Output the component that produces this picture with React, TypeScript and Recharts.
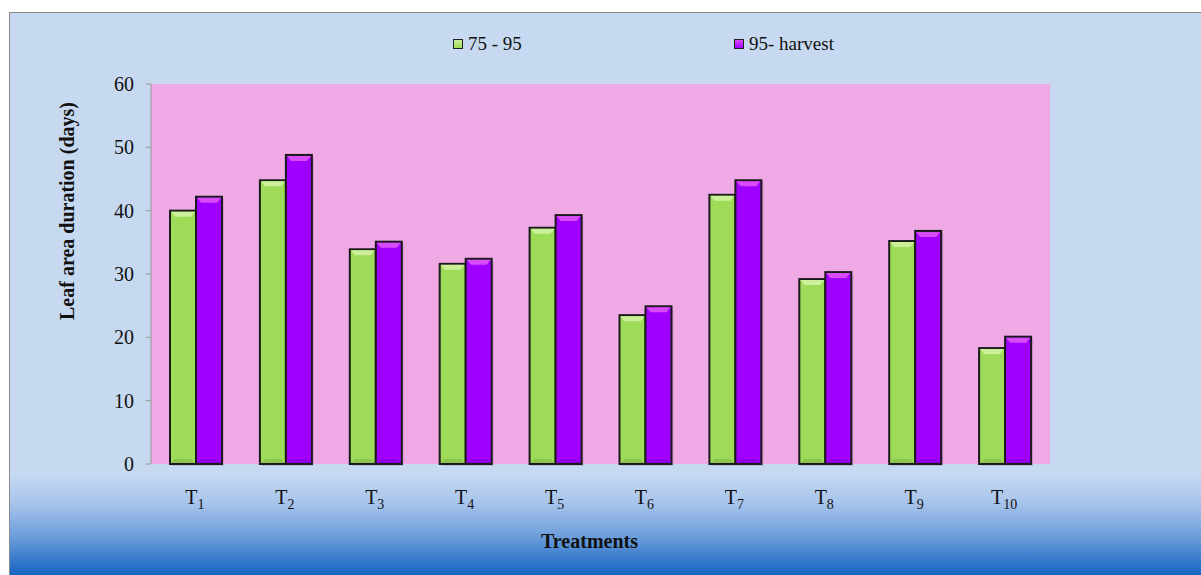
import React from 'react';
import { BarChart, Bar, XAxis, YAxis, CartesianGrid, Label } from 'recharts';

const categories = ['1', '2', '3', '4', '5', '6', '7', '8', '9', '10'];
const series7595 = [40.0, 44.8, 33.9, 31.6, 37.3, 23.5, 42.5, 29.2, 35.2, 18.3];
const seriesHarvest = [42.2, 48.8, 35.1, 32.4, 39.3, 24.9, 44.8, 30.3, 36.8, 20.1];
const yTicks = [0, 10, 20, 30, 40, 50, 60];
const seriesNames = ['75 - 95', '95- harvest'];

const data = categories.map((c, i) => ({ t: c, a: series7595[i], b: seriesHarvest[i] }));

const FONT = '"Liberation Serif", "Times New Roman", serif';
const GREEN = '#9EDB58';
const GREEN_LIGHT = '#CCF09A';
const PURPLE = '#A000FF';
const PURPLE_LIGHT = '#D84CF8';

const BevelBar = (props: any) => {
  const { x, y, width, height, fill, light } = props;
  if (!height || height <= 0) return null;
  return (
    <g>
      <rect x={x + 2} y={y + 2} width={width} height={height} fill="rgba(120,60,120,0.18)" />
      <rect x={x} y={y} width={width} height={height} fill={fill} stroke="#1a1a1a" strokeWidth={2} />
      <path
        d={`M${x + 1},${y + 1} h${width - 2} l-4,5 h${-(width - 10)} z`}
        fill={light}
      />
      <path
        d={`M${x + 1},${y + height - 1} h${width - 2} l-4,-4 h${-(width - 10)} z`}
        fill="rgba(0,0,0,0.10)"
      />
    </g>
  );
};

const XTick = (props: any) => {
  const { x, y, payload } = props;
  return (
    <text x={x - 1} y={y + 32} textAnchor="middle" fontFamily={FONT} fontSize={20} fill="#111">
      <tspan>T</tspan>
      <tspan fontSize={14} dy={5}>{payload.value}</tspan>
    </text>
  );
};

const YLabel = () => (
  <text
    x={0}
    y={0}
    transform="translate(65,199) rotate(-90)"
    textAnchor="middle"
    fontFamily={FONT}
    fontWeight="bold"
    fontSize={20}
    fill="#111"
  >
    Leaf area duration (days)
  </text>
);

const XLabel = (props: any) => {
  const { viewBox } = props;
  const cx = viewBox.x + viewBox.width / 2 - 11;
  const by = viewBox.y + viewBox.height - 16;
  return (
    <text x={cx} y={by} textAnchor="middle" fontFamily={FONT} fontWeight="bold" fontSize={20} fill="#111">
      Treatments
    </text>
  );
};

const LegendSwatch = ({ color }: { color: string }) => (
  <span
    style={{
      display: 'inline-block',
      width: 8,
      height: 8,
      border: '1px solid #222',
      background: `linear-gradient(to bottom, ${color === GREEN ? GREEN_LIGHT : PURPLE_LIGHT}, ${color})`,
      marginRight: 5,
      verticalAlign: 'middle',
      position: 'relative',
      top: -2,
    }}
  />
);

export default function App() {
  return (
    <div
      style={{
        position: 'fixed',
        left: 9,
        top: 12,
        width: 1192,
        height: 563,
        borderLeft: '1px solid #8a8a8a',
        borderTop: '1px solid #8a8a8a',
        boxSizing: 'border-box',
        background:
          'linear-gradient(to bottom, #C6D9F0 0%, #C6D9F0 82%, #A9C5EC 87%, #6E9FDC 93%, #1463C2 100%)',
        fontFamily: FONT,
      }}
    >
      <div style={{ position: 'absolute', left: 443, top: 20, fontSize: 19, color: '#111', whiteSpace: 'nowrap' }}>
        <LegendSwatch color={GREEN} />
        {seriesNames[0]}
      </div>
      <div style={{ position: 'absolute', left: 724, top: 20, fontSize: 19, color: '#111', whiteSpace: 'nowrap' }}>
        <LegendSwatch color={PURPLE} />
        {seriesNames[1]}
      </div>
      <div style={{ position: 'absolute', left: -1, top: -1 }}>
        <BarChart
          width={1192}
          height={563}
          data={data}
          margin={{ top: 72, right: 151, bottom: 11, left: 0 }}
          barSize={26}
          barGap={0}
        >
          <CartesianGrid horizontal={false} vertical={false} fill="#EFA9E4" stroke="none" />
          <XAxis
            dataKey="t"
            height={100}
            axisLine={false}
            tickLine={false}
            tick={<XTick />}
            interval={0}
          >
            <Label content={<XLabel />} />
          </XAxis>
          <YAxis
            width={142}
            domain={[0, 60]}
            ticks={yTicks}
            interval={0}
            axisLine={{ stroke: '#999' }}
            tickLine={{ stroke: '#999' }}
            tickSize={5}
            tickMargin={12}
            tick={{ fontFamily: FONT, fontSize: 20, fill: '#111' }}
          >
            <Label content={<YLabel />} />
          </YAxis>
          <Bar
            dataKey="a"
            name={seriesNames[0]}
            fill={GREEN}
            isAnimationActive={false}
            shape={(p: any) => <BevelBar {...p} light={GREEN_LIGHT} />}
          />
          <Bar
            dataKey="b"
            name={seriesNames[1]}
            fill={PURPLE}
            isAnimationActive={false}
            shape={(p: any) => <BevelBar {...p} light={PURPLE_LIGHT} />}
          />
        </BarChart>
      </div>
    </div>
  );
}
